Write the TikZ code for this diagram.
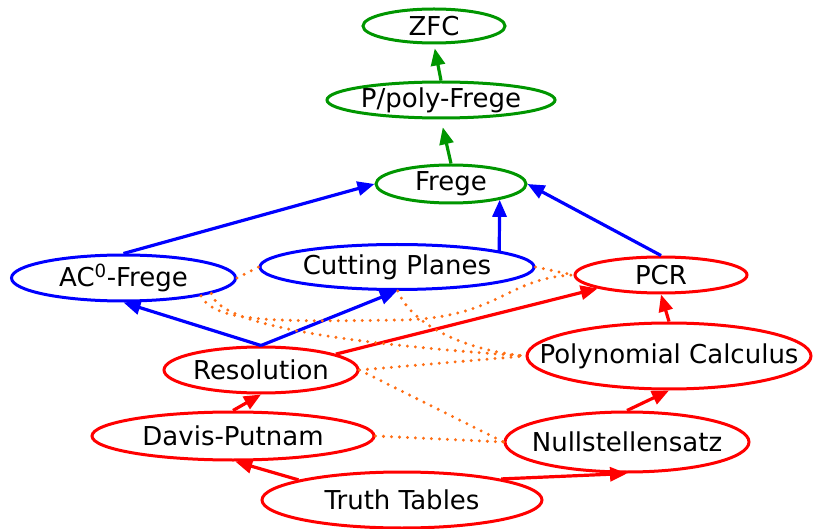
\documentclass[tikz,border=0pt]{standalone}
\usepackage{fontspec}
\setmainfont{DejaVu Sans}
\usetikzlibrary{shapes.geometric,arrows.meta}
\definecolor{pgreen}{RGB}{0,150,0}
\definecolor{pblue}{RGB}{0,0,255}
\definecolor{pred}{RGB}{255,0,0}
\definecolor{porange}{RGB}{255,110,20}
\begin{document}
\begin{tikzpicture}[x=1pt,y=-1pt,
  sys/.style={ellipse, draw, line width=3pt, inner sep=0pt},
  every label/.style={font=\fontsize{26}{29}\selectfont, text=black, inner sep=0pt},
  arr/.style={-{Triangle[length=17pt,width=14pt]}, line width=3.2pt},
  dot/.style={porange, line width=3.3pt, line cap=round, dash pattern=on 0pt off 8pt}]
\useasboundingbox (0,0) rectangle (814,529);

% proof systems
\node[sys, pgreen, minimum width=142pt, minimum height=34pt, label={center:ZFC}] (zfc) at (434,26) {};
\node[sys, pgreen, minimum width=228pt, minimum height=36pt, label={center:P/poly-Frege}] (pp) at (441,100) {};
\node[sys, pgreen, minimum width=150pt, minimum height=38pt, label={center:Frege}] (frege) at (451,184) {};
\node[sys, pblue, minimum width=224pt, minimum height=46pt, label={center:AC\textsuperscript{0}-Frege}] (acf) at (123.5,278) {};
\node[sys, pblue, minimum width=274pt, minimum height=45pt, label={center:Cutting Planes}] (cp) at (397,267) {};
\node[sys, pred, minimum width=172pt, minimum height=36pt, label={center:PCR}] (pcr) at (661,275) {};
\node[sys, pred, minimum width=194pt, minimum height=46pt, label={center:Resolution}] (res) at (261,370) {};
\node[sys, pred, minimum width=284pt, minimum height=66pt, label={center:Polynomial Calculus}] (poly) at (669,356) {};
\node[sys, pred, minimum width=282pt, minimum height=48pt, label={center:Davis-Putnam}] (dp) at (233,436) {};
\node[sys, pred, minimum width=244pt, minimum height=60pt, label={center:Nullstellensatz}] (null) at (627,442) {};
\node[sys, pred, minimum width=280pt, minimum height=56pt, label={center:Truth Tables}] (tt) at (402,500) {};

% simulations
\draw[arr, pgreen, shorten >=4pt] (pp.north) -- (zfc.south);
\draw[arr, pgreen, shorten >=8pt] (frege.north) -- (pp.south);

\draw[arr, pblue] (acf.north) -- (frege.west);
\draw[arr, pblue] (cp.9) -- (frege.-18);
\draw[arr, pblue] (pcr.north) -- (frege.east);
\draw[arr, pblue] (res.north) -- (acf.south);
\draw[arr, pblue] (res.north) -- (cp.south);

\draw[arr, pred] (res.12) -- (pcr.-168);
\draw[arr, pred] (dp.north) -- (res.south);
\draw[arr, pred] (tt.169) -- (dp.-85);
\draw[arr, pred] (tt.12) -- (null.south);
\draw[arr, pred] (null.north) -- (poly.south);
\draw[arr, pred] (poly.north) -- (pcr.south);

% separations
\draw[dot] (acf.east) -- (cp.west);
\draw[dot] (cp.east) -- (pcr.west);
\draw[dot] (acf.-13) .. controls (215,322) and (270,322) .. (400,320)
  .. controls (500,318) and (505,278) .. (pcr.west);
\draw[dot] (acf.-10) .. controls (218,322) and (320,342) .. (poly.west);
\draw[dot] (cp.-88) .. controls (410,322) and (460,350) .. (poly.west);
\draw[dot] (res.east) -- (poly.west);
\draw[dot] (res.east) -- (null.west);
\draw[dot] (dp.east) -- (null.west);
\end{tikzpicture}
\end{document}
